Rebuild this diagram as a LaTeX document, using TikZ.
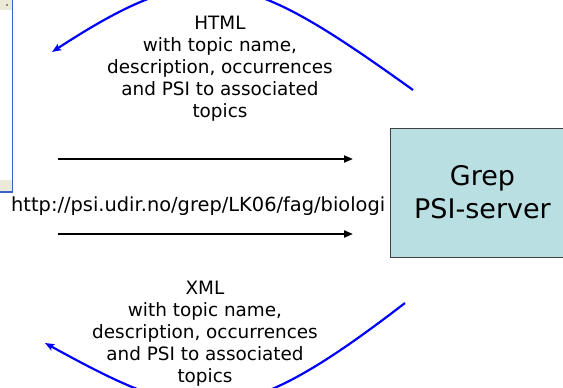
\documentclass[tikz,border=0pt]{standalone}
\usepackage{fontspec}
\setmainfont{DejaVu Sans}
\usetikzlibrary{arrows.meta}
\definecolor{boxfill}{HTML}{B9DFE3}
\definecolor{frameblue}{HTML}{3A5FC8}
\definecolor{barbeige}{HTML}{ECE9D8}
\tikzset{
  lbl/.style={align=center, inner sep=0pt, font=\fontsize{18.4}{22}\selectfont},
  flow/.style={line width=2pt, -{Triangle[length=9pt,width=7pt]}},
  reply/.style={line width=2.2pt, blue, -{Stealth[length=9pt,width=7pt,inset=1.5pt]}},
  server/.style={draw=black!75, line width=0.8pt, fill=boxfill, minimum width=185pt, minimum height=129pt, align=center, inner sep=0pt, font=\fontsize{27}{33}\selectfont}
}
\begin{document}
\begin{tikzpicture}[x=1pt,y=-1pt]
\useasboundingbox (0,0) rectangle (563,388);
\clip (0,0) rectangle (563,388);
% window fragment at the left
\fill[barbeige] (0,0) rectangle (12,10);
\fill[black!45] (6,4) rectangle (8,6);
\fill[barbeige] (0,180) rectangle (12,191);
\draw[frameblue, line width=1.2pt] (12.5,0) -- (12.5,192) -- (0,192);
% server box
\node[server] (grep) at (482.5,192.5) {Grep\\PSI-server};
% request arrows
\coordinate (r1s) at (58,159);
\coordinate (r1e) at (353,159);
\coordinate (r2s) at (58,234);
\coordinate (r2e) at (353,234);
\draw[flow] (r1s) -- (r1e);
\draw[flow] (r2s) -- (r2e);
\node[inner sep=0pt, anchor=base west, font=\fontsize{19.4}{23}\selectfont] (url) at (11,211) {http://psi.udir.no/grep/LK06/fag/biologi};
% labels
\node[lbl] (html) at (220,69) {HTML\\with topic name,\\description, occurrences\\and PSI to associated\\topics};
\node[lbl] (xml) at (205,334) {XML\\with topic name,\\description, occurrences\\and PSI to associated\\topics};
% reply curves
\coordinate (t0) at (413,90);
\coordinate (t3) at (52,52);
\coordinate (b0) at (405,303);
\coordinate (b3) at (45,343);
\draw[reply] (t0) .. controls (243,-32) and (202,-45.5) .. (t3);
\draw[reply] (b0) .. controls (235,434) and (195,425.5) .. (b3);
\end{tikzpicture}
\end{document}
